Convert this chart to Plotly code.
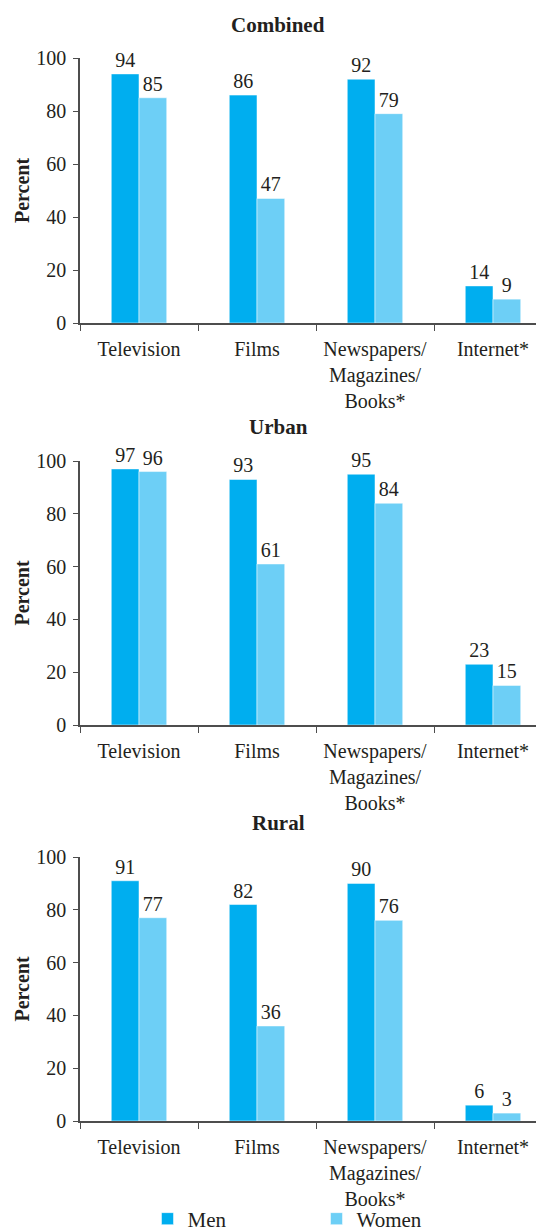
import plotly.graph_objects as go
from plotly.subplots import make_subplots

categories = ["Television", "Films", "Newspapers/<br>Magazines/<br>Books*", "Internet*"]
panels = ["Combined", "Urban", "Rural"]

men_combined = [94, 86, 92, 14]
women_combined = [85, 47, 79, 9]
men_urban = [97, 93, 95, 23]
women_urban = [96, 61, 84, 15]
men_rural = [91, 82, 90, 6]
women_rural = [77, 36, 76, 3]

men = [men_combined, men_urban, men_rural]
women = [women_combined, women_urban, women_rural]

MEN_COLOR = "#00AEEF"
WOMEN_COLOR = "#6DCFF6"
TEXT = "#231F20"
AXIS = "#4D4D4D"
FONT = "Liberation Serif"

H = 1228
OFF = 8  # the page body adds an 8px margin around the figure
MT, MB = 20, 20
PH = H - MT - MB
# page pixel rows (top, bottom) of each plot area
rows_px = [(58, 323), (461, 725), (857, 1121)]
title_px = [25, 427, 823]


def py(px):
    # page pixel -> paper fraction
    return (H - MB - (px - OFF)) / PH


fig = make_subplots(rows=3, cols=1)

for i in range(3):
    r = i + 1
    fig.add_trace(go.Bar(
        x=categories, y=men[i], name="Men", marker_color=MEN_COLOR,
        text=men[i], textposition="outside", cliponaxis=False,
        textfont=dict(size=20, color=TEXT, family=FONT),
        showlegend=(i == 0), legendgroup="men"
    ), r, 1)
    fig.add_trace(go.Bar(
        x=categories, y=women[i], name="Women", marker_color=WOMEN_COLOR,
        text=women[i], textposition="outside", cliponaxis=False,
        textfont=dict(size=20, color=TEXT, family=FONT),
        showlegend=(i == 0), legendgroup="women"
    ), r, 1)

    top, bottom = rows_px[i]
    yax = "yaxis" if r == 1 else f"yaxis{r}"
    xax = "xaxis" if r == 1 else f"xaxis{r}"
    fig.layout[yax].update(
        domain=[py(bottom), py(top)], range=[0, 100], dtick=20, automargin=False,
        showgrid=False, zeroline=False, showline=True, linecolor=AXIS, linewidth=1.5,
        ticks="outside", ticklen=5, tickcolor=AXIS, ticklabelstandoff=3,
        tickfont=dict(size=20, color=TEXT, family=FONT),
        title=dict(text="<b>Percent</b>", font=dict(size=20, color=TEXT, family=FONT), standoff=1),
    )
    fig.layout[xax].update(
        range=[-0.5, 3.5], showgrid=False, showline=True, linecolor=AXIS, linewidth=1.5,
        automargin=False, ticks="outside", tickson="boundaries", ticklen=6, tickcolor=AXIS,
        tickangle=0, ticklabelstandoff=7, tickfont=dict(size=20, color=TEXT, family=FONT),
    )
    fig.add_annotation(
        text=f"<b>{panels[i]}</b>", x=0.42, xref="paper", y=py(title_px[i]), yref="paper",
        showarrow=False, font=dict(size=21, color=TEXT, family=FONT), xanchor="center", yanchor="middle",
    )

fig.update_layout(
    width=544, height=H, template="simple_white",
    margin=dict(l=72, r=0, t=MT, b=MB, autoexpand=False),
    barmode="group", bargap=0.53, bargroupgap=0,
    font=dict(family=FONT, color=TEXT),
    legend=dict(
        orientation="h", x=0.143, xanchor="left", y=py(1219), yanchor="middle",
        bgcolor="rgba(0,0,0,0)", entrywidth=124, font=dict(size=21, color=TEXT, family=FONT),
    ),
)

fig.write_html("out.html")
